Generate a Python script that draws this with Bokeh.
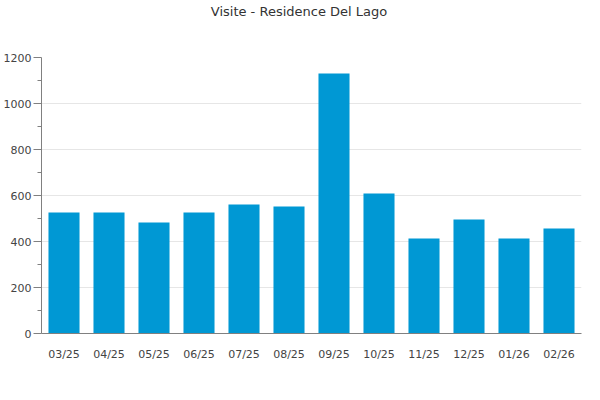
from bokeh.plotting import figure
from bokeh.models import FactorRange, Range1d, FixedTicker, ColumnDataSource, Div
from bokeh.layouts import column
from bokeh.embed import file_html
from bokeh.resources import INLINE

months = ["03/25", "04/25", "05/25", "06/25", "07/25", "08/25",
          "09/25", "10/25", "11/25", "12/25", "01/26", "02/26"]
visits = [526, 526, 483, 526, 561, 552, 1130, 609, 413, 496, 413, 457]
y_ticks = [0, 200, 400, 600, 800, 1000, 1200]
y_minor = [100, 300, 500, 700, 900, 1100]
title_text = "Visite - Residence Del Lago"

src = ColumnDataSource(data=dict(month=months, visits=visits))

header = Div(text=title_text, width=584, height=24, margin=0,
             styles={"text-align": "center", "font-family": "DejaVu Sans",
                     "font-size": "13px", "color": "#333333", "line-height": "24px",
                     "width": "584px", "text-indent": "14px"})

p = figure(x_range=FactorRange(factors=months), y_range=Range1d(0, 1200),
           width=584, height=360, frame_width=540, frame_height=276,
           min_border_left=32, min_border_right=12, min_border_top=33, min_border_bottom=51,
           output_backend="svg", toolbar_location=None, margin=0)

p.vbar(x="month", top="visits", width=0.69, source=src,
       fill_color="#0098d4", line_color=None)

p.outline_line_color = None
p.background_fill_color = "white"
p.border_fill_color = "white"

p.xgrid.grid_line_color = None
p.ygrid.grid_line_color = "#e6e6e6"
p.ygrid.ticker = FixedTicker(ticks=y_ticks)

p.yaxis.ticker = FixedTicker(ticks=y_ticks, minor_ticks=y_minor)
p.yaxis.axis_line_color = "#808080"
p.yaxis.major_tick_line_color = "#808080"
p.yaxis.minor_tick_line_color = "#808080"
p.yaxis.major_tick_out = 8
p.yaxis.major_tick_in = 0
p.yaxis.minor_tick_out = 4
p.yaxis.minor_tick_in = 0
p.yaxis.major_label_standoff = 2
p.yaxis.major_label_text_font = "DejaVu Sans"
p.yaxis.major_label_text_font_size = "11px"
p.yaxis.major_label_text_color = "#444444"

p.xaxis.axis_line_color = "#808080"
p.xaxis.major_tick_line_color = None
p.xaxis.minor_tick_line_color = None
p.xaxis.major_label_standoff = 8
p.xaxis.major_label_text_font = "DejaVu Sans"
p.xaxis.major_label_text_font_size = "11px"
p.xaxis.major_label_text_color = "#444444"

layout = column(header, p, spacing=0, margin=0)

open("out.html", "w").write(file_html(layout, INLINE))
